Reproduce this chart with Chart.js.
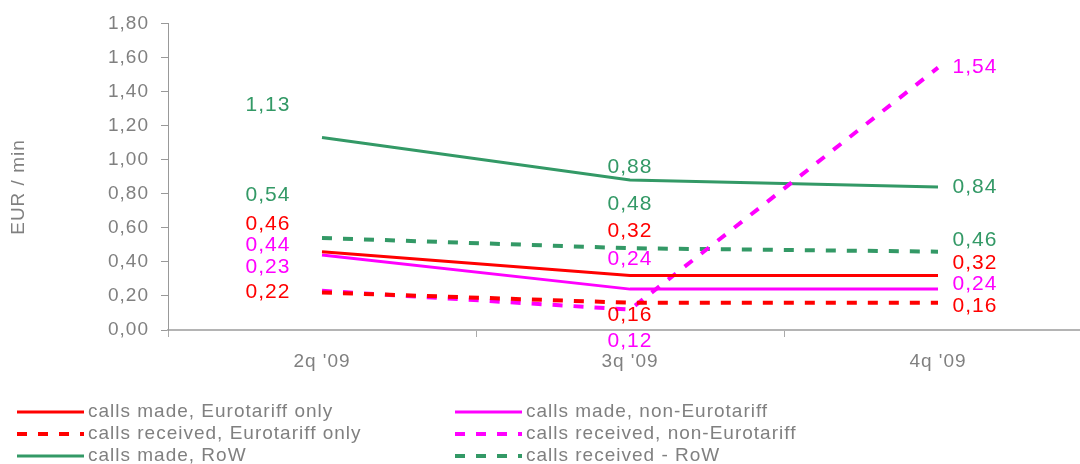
<!DOCTYPE html>
<html lang="en">
<head>
<meta charset="UTF-8">
<title>EUR / min</title>
<script src="https://cdn.jsdelivr.net/npm/chart.js@4"></script>
<style>
  html, body { margin: 0; padding: 0; background: #fff; overflow: hidden; }
  #wrap { width: 1080px; height: 464px; overflow: hidden; }
</style>
</head>
<body>
<div id="wrap"><canvas id="canvas" width="1100" height="464"></canvas></div>
<script>
// data
const categories = ["2q '09", "3q '09", "4q '09"];
const madeEuro = [0.46, 0.32, 0.32];
const madeNonEuro = [0.44, 0.24, 0.24];
const recvEuro = [0.22, 0.16, 0.16];
const recvNonEuro = [0.23, 0.12, 1.54];
const madeRow = [1.13, 0.88, 0.84];
const recvRow = [0.54, 0.48, 0.46];

const RED = '#ff0000', PINK = '#ff00ff', GREEN = '#339966', GREY = '#808080';
const FONT = '"Liberation Sans", Arial, sans-serif';

// label offsets from the point (pixels)
const labelDx = [-54, 0, 37];

function ds(label, data, color, dashed, dy, legendCol, legendRow) {
    return {
        label: label, data: data, borderColor: color, backgroundColor: color,
        borderWidth: dashed ? 4 : 3, borderDash: dashed ? [10, 11] : [],
        pointRadius: 0, tension: 0, fill: false,
        labelDy: dy, legendCol: legendCol, legendRow: legendRow
    };
}

const datasets = [
    ds('calls made, Eurotariff only', madeEuro, RED, false, [-27, -44, -12], 0, 0),
    ds('calls made, non-Eurotariff', madeNonEuro, PINK, false, [-10, -30, -5], 1, 0),
    ds('calls received, Eurotariff only', recvEuro, RED, true, [0, 12, 3], 0, 1),
    ds('calls received, non-Eurotariff', recvNonEuro, PINK, true, [-24, 32, 0], 1, 1),
    ds('calls made, RoW', madeRow, GREEN, false, [-32, -13, 0], 0, 2),
    ds('calls received - RoW', recvRow, GREEN, true, [-43, -44, -11], 1, 2)
];

const fmt = v => v.toFixed(2).replace('.', ',');

const extras = {
    id: 'extras',
    beforeInit(chart) { chart.ctx.letterSpacing = '1px'; },
    beforeDraw(chart) { chart.ctx.letterSpacing = '1px'; },
    afterDatasetsDraw(chart) {
        const ctx = chart.ctx;
        const x = chart.scales.x, y = chart.scales.y;
        ctx.save();
        ctx.letterSpacing = '1px';
        ctx.font = '21px ' + FONT;
        ctx.textAlign = 'center';
        ctx.textBaseline = 'middle';
        chart.data.datasets.forEach(d => {
            ctx.fillStyle = d.borderColor;
            d.data.forEach((v, i) => {
                ctx.fillText(fmt(v), x.getPixelForValue(i) + labelDx[i], y.getPixelForValue(v) + d.labelDy[i]);
            });
        });

        // axis title
        ctx.fillStyle = GREY;
        ctx.font = '19px ' + FONT;
        ctx.translate(19, 187);
        ctx.rotate(-Math.PI / 2);
        ctx.fillText('EUR / min', 0, 0);
        ctx.restore();

        // legend
        ctx.save();
        ctx.letterSpacing = '1px';
        const colX = [17, 455], rowY = [412, 434, 456];
        chart.data.datasets.forEach(d => {
            const lx = colX[d.legendCol], ly = rowY[d.legendRow];
            ctx.strokeStyle = d.borderColor;
            ctx.lineWidth = d.borderWidth;
            ctx.setLineDash(d.borderDash);
            ctx.beginPath();
            ctx.moveTo(lx, ly);
            ctx.lineTo(lx + 67, ly);
            ctx.stroke();
            ctx.setLineDash([]);
            ctx.fillStyle = GREY;
            ctx.font = '19px ' + FONT;
            ctx.textAlign = 'left';
            ctx.textBaseline = 'middle';
            ctx.fillText(d.label, lx + 71, ly);
        });
        ctx.restore();
    }
};

const chart = new Chart(document.getElementById('canvas').getContext('2d'), {
    type: 'line',
    data: { labels: categories, datasets: datasets },
    options: {
        responsive: false,
        animation: false,
        layout: { padding: { top: 23, right: 8, left: 0, bottom: 0 } },
        plugins: { legend: { display: false }, tooltip: { enabled: false } },
        scales: {
            x: {
                offset: true,
                grid: { offset: true, drawOnChartArea: false, drawTicks: true, tickLength: 7, color: '#aaaaaa' },
                border: { color: '#b4b4b4', width: 2 },
                ticks: { color: GREY, font: { family: FONT, size: 19 }, padding: 13, maxRotation: 0 },
                afterFit(s) { s.height = 134; }
            },
            y: {
                min: 0, max: 1.8,
                grid: { drawOnChartArea: false, drawTicks: true, tickLength: 7, color: '#999999' },
                border: { color: '#999999', width: 1 },
                ticks: {
                    stepSize: 0.2, color: GREY, font: { family: FONT, size: 19 }, padding: 12,
                    callback: v => fmt(v)
                },
                afterFit(s) { s.width = 168; }
            }
        }
    },
    plugins: [extras]
});
</script>
</body>
</html>
